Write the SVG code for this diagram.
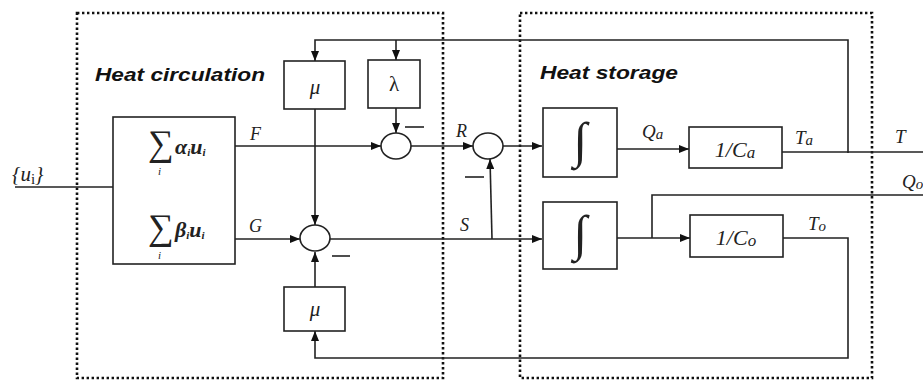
<svg xmlns="http://www.w3.org/2000/svg" width="923" height="381" viewBox="0 0 923 381">
<style>
.blk{fill:#fff;stroke:#222;stroke-width:1.6}
.ln{fill:none;stroke:#222;stroke-width:1.6}
.dot{fill:none;stroke:#111;stroke-width:2.6;stroke-dasharray:2.4 2.6}
.sum{fill:#fff;stroke:#222;stroke-width:1.6}
.lab{font-family:"Liberation Serif",serif;font-style:italic;fill:#222}
.title{font-family:"Liberation Sans",sans-serif;font-style:italic;font-weight:bold;fill:#111}
.math{font-family:"Liberation Serif",serif;fill:#222}
</style>
<defs>
<marker id="ah" markerWidth="10" markerHeight="8" refX="10" refY="4" orient="auto" markerUnits="userSpaceOnUse">
<path d="M0,0 L10,4 L0,8 Z" fill="#111"/>
</marker>
</defs>
<rect x="0" y="0" width="923" height="381" fill="#fff"/>
<g id="regions">
<rect class="dot" x="77" y="13" width="366" height="365"/>
<rect class="dot" x="520" y="13" width="352" height="365"/>
<text class="title" x="95" y="81" font-size="19" textLength="170" lengthAdjust="spacingAndGlyphs">Heat circulation</text>
<text class="title" x="540" y="79" font-size="19" textLength="138" lengthAdjust="spacingAndGlyphs">Heat storage</text>
</g>
<g id="connectors">
<line class="ln" x1="15" y1="187" x2="113" y2="187"/>
<line class="ln" x1="235" y1="146" x2="381" y2="146" marker-end="url(#ah)"/>
<polyline class="ln" points="848,153 848,40 315,40 315,61" marker-end="url(#ah)"/>
<line class="ln" x1="396" y1="40" x2="396" y2="60" marker-end="url(#ah)"/>
<line class="ln" x1="396" y1="108" x2="396" y2="133" marker-end="url(#ah)"/>
<line class="ln" x1="315" y1="109" x2="315" y2="225" marker-end="url(#ah)"/>
<line class="ln" x1="235" y1="239" x2="300" y2="239" marker-end="url(#ah)"/>
<line class="ln" x1="315" y1="287" x2="315" y2="252" marker-end="url(#ah)"/>
<polyline class="ln" points="783,238 848,238 848,358 315,358 315,331" marker-end="url(#ah)"/>
<line class="ln" x1="330" y1="239" x2="542" y2="239" marker-end="url(#ah)"/>
<line class="ln" x1="492" y1="239" x2="490" y2="159" marker-end="url(#ah)"/>
<line class="ln" x1="411" y1="146" x2="473" y2="146" marker-end="url(#ah)"/>
<line class="ln" x1="503" y1="146" x2="542" y2="146" marker-end="url(#ah)"/>
<line class="ln" x1="617" y1="149" x2="689" y2="149" marker-end="url(#ah)"/>
<line class="ln" x1="782" y1="152" x2="923" y2="152"/>
<line class="ln" x1="617" y1="238" x2="690" y2="238" marker-end="url(#ah)"/>
<polyline class="ln" points="652,238 652,195 923,195"/>
<line class="ln" x1="405" y1="127" x2="424" y2="127"/>
<line class="ln" x1="332" y1="256" x2="350" y2="256"/>
<line class="ln" x1="465" y1="177" x2="484" y2="177"/>
<text class="lab" x="12" y="181" font-size="21">{<tspan>u</tspan><tspan font-style="normal" font-size="15" dy="3">i</tspan><tspan dy="-3">}</tspan></text>
<text class="lab" x="250" y="140" font-size="18">F</text>
<text class="lab" x="249" y="232" font-size="18">G</text>
<text class="lab" x="456" y="137" font-size="18">R</text>
<text class="lab" x="460" y="231" font-size="18">S</text>
<text class="lab" x="642" y="138" font-size="19">Q<tspan font-size="15" dy="1">a</tspan></text>
<text class="lab" x="795" y="144" font-size="19">T<tspan font-size="15" dy="1">a</tspan></text>
<text class="lab" x="895" y="143" font-size="19">T</text>
<text class="lab" x="902" y="188" font-size="19">Q<tspan font-size="15" dy="1">o</tspan></text>
<text class="lab" x="808" y="230" font-size="19">T<tspan font-size="15" dy="1">o</tspan></text>
</g>
<g id="sum-block">
<rect class="blk" x="113" y="117" width="122" height="147"/>
<text class="math" x="148" y="155" font-size="36">∑</text>
<text class="math" x="158" y="175" font-size="11" font-style="italic">i</text>
<text class="math" x="175" y="154" font-style="italic" font-weight="bold" font-size="22">α<tspan font-size="11" dy="2">i</tspan><tspan dy="-2">u</tspan><tspan font-size="11" dy="2">i</tspan></text>
<text class="math" x="148" y="239" font-size="36">∑</text>
<text class="math" x="158" y="259" font-size="11" font-style="italic">i</text>
<text class="math" x="175" y="237" font-style="italic" font-weight="bold" font-size="22">β<tspan font-size="11" dy="2">i</tspan><tspan dy="-2">u</tspan><tspan font-size="11" dy="2">i</tspan></text>
</g>
<g id="mu-top">
<rect class="blk" x="284" y="61" width="61" height="48"/>
<text class="lab" x="315" y="94" text-anchor="middle" font-size="21">μ</text>
</g>
<g id="lambda">
<rect class="blk" x="368" y="60" width="52" height="48"/>
<text class="math" x="394" y="91" text-anchor="middle" font-size="21">λ</text>
</g>
<g id="sum-lambda"><ellipse class="sum" cx="396" cy="146" rx="15" ry="13"/></g>
<g id="sum-mu"><ellipse class="sum" cx="315" cy="238" rx="15" ry="13"/></g>
<g id="sum-r"><ellipse class="sum" cx="488" cy="146" rx="15" ry="13"/></g>
<g id="mu-bottom">
<rect class="blk" x="284" y="287" width="61" height="44"/>
<text class="lab" x="315" y="316" text-anchor="middle" font-size="21">μ</text>
</g>
<g id="int-a">
<rect class="blk" x="543" y="108" width="74" height="69"/>
<text class="math" x="580" y="157" text-anchor="middle" font-size="50" font-style="italic">∫</text>
</g>
<g id="int-o">
<rect class="blk" x="543" y="202" width="74" height="67"/>
<text class="math" x="580" y="250" text-anchor="middle" font-size="50" font-style="italic">∫</text>
</g>
<g id="ca">
<rect class="blk" x="689" y="127" width="93" height="41"/>
<text class="lab" x="735" y="157" text-anchor="middle" font-size="22">1/C<tspan font-size="17" dy="1">a</tspan></text>
</g>
<g id="co">
<rect class="blk" x="690" y="215" width="93" height="42"/>
<text class="lab" x="736" y="245" text-anchor="middle" font-size="22">1/C<tspan font-size="17" dy="1">o</tspan></text>
</g>
</svg>
